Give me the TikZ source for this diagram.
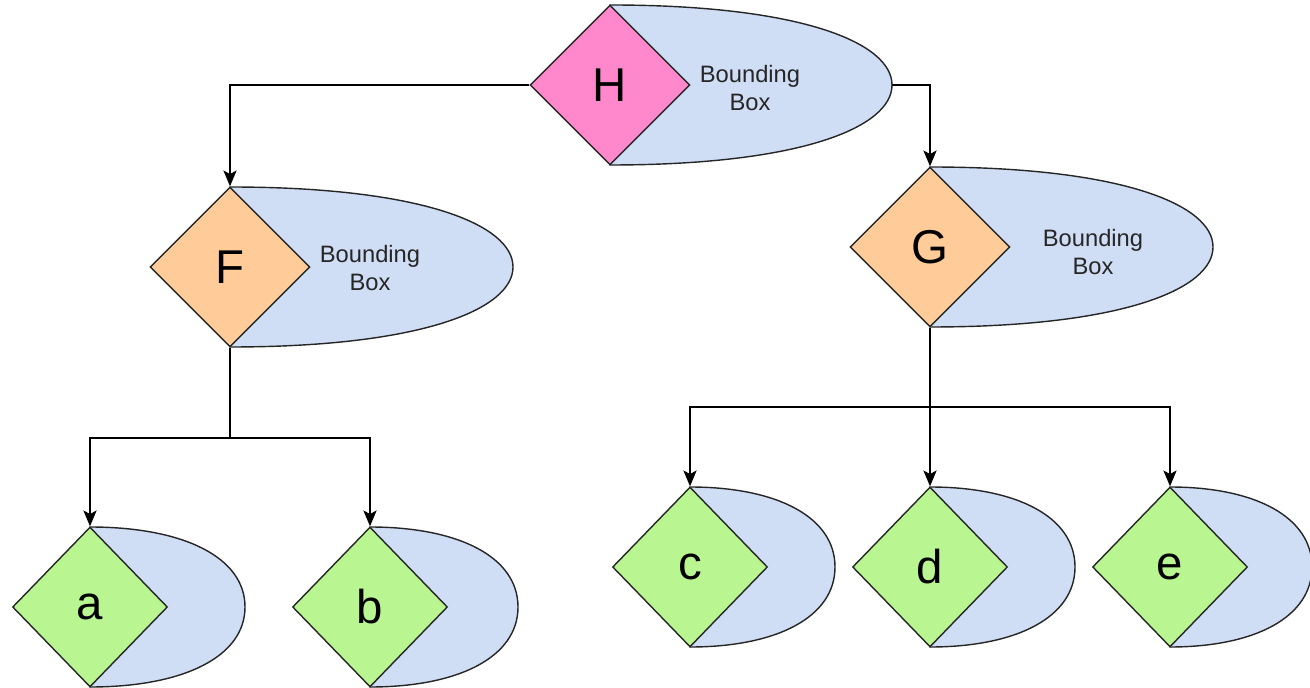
\documentclass[tikz,border=0pt]{standalone}
\usepackage{fontspec}
\setmainfont{Liberation Sans}
\usetikzlibrary{shapes.geometric,arrows.meta}
\definecolor{hpink}{HTML}{FF88CC}
\definecolor{forange}{HTML}{FFCC99}
\definecolor{lgreen}{HTML}{B9F590}
\definecolor{bblue}{HTML}{CFDDF5}

\begin{document}
\begin{tikzpicture}[x=0.02cm, y=-0.02cm,
    knot/.style={diamond, draw=black!85, line width=0.8pt, inner sep=0pt,
                 minimum width=3.2cm, minimum height=3.2cm, font=\fontsize{27}{27}\selectfont},
    leaf/.style={knot, fill=lgreen, minimum width=3.1cm},
    bbox/.style={draw=black!85, fill=bblue, line width=0.8pt},
    arr/.style={-{Stealth[length=9pt, width=7.5pt, inset=2pt]}, line width=0.8pt},
    lbl/.style={align=center, font=\fontsize{13.5}{16}\selectfont, text=black!85}]
    \useasboundingbox (0,0) rectangle (1310,688);
    % bounding boxes behind the diamonds
    \foreach \x/\y/\r/\k/\h in {610/85/282/42/0.68, 230/267/283/42/0.68, 930/247/283/42/0.68,
                                90/607/155/50/0.6, 370/607/148/50/0.6, 690/567/145/50/0.6,
                                930/567/145/50/0.6, 1170/567/142/50/0.6}
        \draw[bbox] (\x,\y-80) .. controls (\x+\h*\r,\y-80) and (\x+\r,\y-\k) .. (\x+\r,\y)
                    .. controls (\x+\r,\y+\k) and (\x+\h*\r,\y+80) .. (\x,\y+80) -- cycle;
    % diamonds
    \node[knot, fill=hpink]   (H) at (610,85)  {H};
    \node[knot, fill=forange] (F) at (230,267) {F};
    \node[knot, fill=forange] (G) at (930,247) {G};
    \node[leaf] (a) at (90,607)  {a};
    \node[leaf] (b) at (370,607) {b};
    \node[leaf] (c) at (690,567) {c};
    \node[leaf] (d) at (930,567) {d};
    \node[leaf] (e) at (1170,567) {e};
    \node[lbl] (Hlbl) at (750,88)  {Bounding\\Box};
    \node[lbl] (Flbl) at (370,268) {Bounding\\Box};
    \node[lbl] (Glbl) at (1093,252) {Bounding\\Box};
    % connectors
    \coordinate (Hbb) at (892,85);
    \coordinate (Fj) at (230,438);
    \coordinate (Gj) at (930,407);
    \draw[arr] (H.west) -| (F.north);
    \draw[arr] (Hbb) -| (G.north);
    \draw[line width=0.8pt] (F.south) -- (Fj);
    \draw[arr] (Fj) -| (a.north);
    \draw[arr] (Fj) -| (b.north);
    \draw[arr] (G.south) -- (d.north);
    \draw[arr] (Gj) -| (c.north);
    \draw[arr] (Gj) -| (e.north);
\end{tikzpicture}
\end{document}
